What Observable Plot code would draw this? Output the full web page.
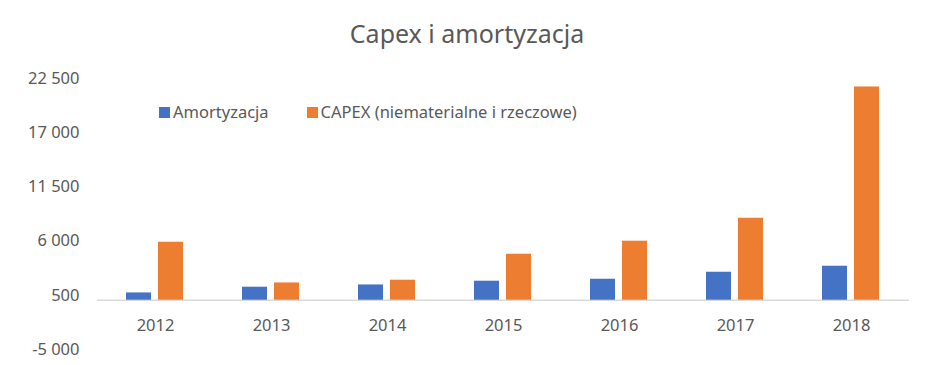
<!DOCTYPE html>
<html>
<head>
<meta charset="utf-8">
<script src="https://cdn.jsdelivr.net/npm/d3@7"></script>
<script src="https://cdn.jsdelivr.net/npm/@observablehq/plot@0.6"></script>
<style>
  html, body { margin: 0; padding: 0; background: #fff; }
  #wrap { position: relative; width: 934px; height: 365px; font-family: "Noto Sans", sans-serif; color: #595959; }
  #title { height: 60px; line-height: 66px; text-align: center; font-size: 25px; color: #595959; overflow: visible; }
  #legend { position: absolute; left: 159px; top: 101px; display: flex; gap: 38px; font-size: 16.5px; line-height: 22px; }
  #legend .item { display: flex; align-items: center; gap: 3px; }
  #legend .sw { width: 11px; height: 11px; display: inline-block; }
  svg { display: block; }
</style>
</head>
<body>
<div id="wrap">
  <div id="title">Capex i amortyzacja</div>
  <div id="chart"></div>
  <div id="legend"></div>
</div>
<script>
const years = ["2012", "2013", "2014", "2015", "2016", "2017", "2018"];
const series = ["Amortyzacja", "CAPEX (niematerialne i rzeczowe)"];
const colors = ["#4472C4", "#ED7D31"];
const amortyzacja = [740, 1320, 1550, 1930, 2130, 2840, 3450];
const capex = [5885, 1755, 2030, 4670, 5990, 8320, 21640];
const yTicks = [-5000, 500, 6000, 11500, 17000, 22500];

const table = [];
years.forEach((y, i) => {
  table.push({year: y, series: series[0], value: amortyzacja[i]});
  table.push({year: y, series: series[1], value: capex[i]});
});

const fmt = d => d3.format(",")(d).replace(/,/g, " ").replace("−", "-");

const chart = Plot.plot({
  width: 934,
  height: 305,
  marginLeft: 96,
  marginRight: 25,
  marginTop: 18,
  marginBottom: 16,
  style: {fontFamily: "Noto Sans, sans-serif", fontSize: "16.5px", color: "#595959", background: "#fff"},
  fx: {domain: years, padding: 0, axis: null},
  x: {domain: series, paddingInner: 0.212, paddingOuter: 0.864, axis: null},
  y: {domain: [-5000, 22500], ticks: yTicks, tickFormat: fmt, tickSize: 0, tickPadding: 18, label: null},
  color: {domain: series, range: colors},
  marks: [
    Plot.ruleY([0], {stroke: "#d9d9d9", strokeWidth: 1.5}),
    Plot.barY(table, {fx: "year", x: "series", y: "value", fill: "series"}),
    Plot.text(years, {fx: d => d, text: d => d, frameAnchor: "bottom", lineAnchor: "middle", dy: -24, fill: "#595959", fontSize: 16.5})
  ]
});
document.getElementById("chart").appendChild(chart);

const legend = document.getElementById("legend");
series.forEach((s, i) => {
  const item = document.createElement("div");
  item.className = "item";
  const sw = document.createElement("span");
  sw.className = "sw";
  sw.style.background = colors[i];
  const t = document.createElement("span");
  t.textContent = s;
  item.appendChild(sw);
  item.appendChild(t);
  legend.appendChild(item);
});
</script>
</body>
</html>
